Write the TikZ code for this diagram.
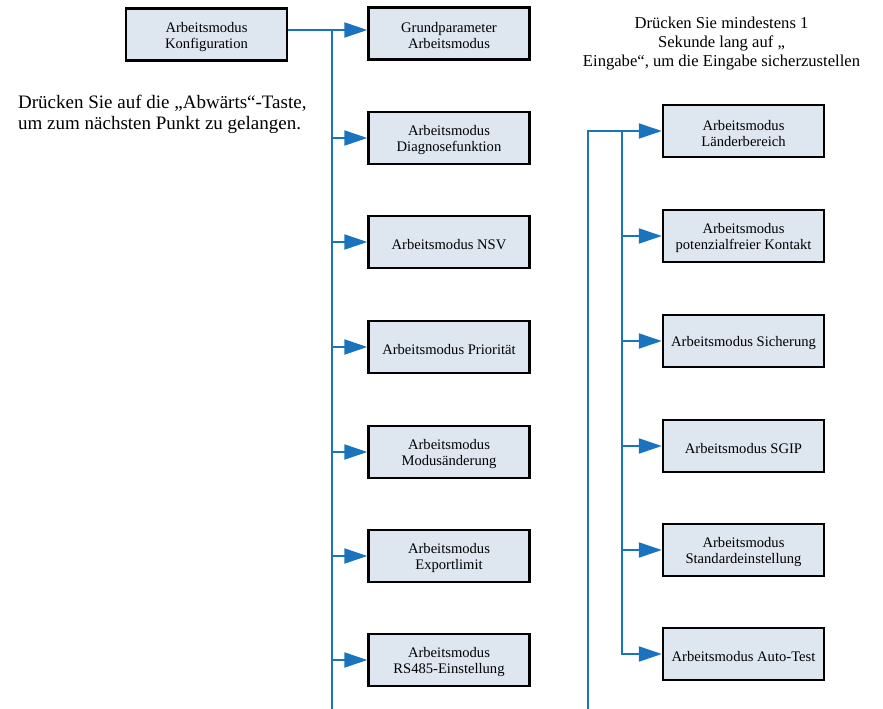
\documentclass[tikz,border=0pt]{standalone}
\usepackage{fontspec}
\setmainfont{Liberation Serif}
\usetikzlibrary{arrows.meta}
\definecolor{boxfill}{RGB}{222,230,240}
\definecolor{linkblue}{RGB}{26,115,189}
\newcommand{\mystrut}{\rule{0pt}{15pt}}
\begin{document}
\begin{tikzpicture}[x=1pt,y=-1pt,
  mbox/.style={draw=black, line width=2.4pt, fill=boxfill, minimum width=161pt,
    minimum height=52pt, align=center, inner sep=0pt,
    font=\fontsize{14.6}{16}\selectfont},
  link/.style={draw=linkblue, line width=2pt},
  arr/.style={link, -{Triangle[length=23pt,width=15pt]}},
  note/.style={inner sep=0pt}]
\useasboundingbox (0,0) rectangle (883,709);

% left column
\node[mbox] (konf) at (206.5,34.5) {\mystrut Arbeitsmodus\\Konfiguration};
\node[mbox] (grund) at (449,33.5) {\mystrut Grundparameter\\Arbeitsmodus};
\node[mbox] (diag) at (449,138) {\mystrut Arbeitsmodus\\Diagnosefunktion};
\node[mbox] (nsv) at (449,242) {\mystrut Arbeitsmodus NSV};
\node[mbox] (prio) at (449,347) {\mystrut Arbeitsmodus Priorität};
\node[mbox] (modus) at (449,452) {\mystrut Arbeitsmodus\\Modusänderung};
\node[mbox] (export) at (449,556) {\mystrut Arbeitsmodus\\Exportlimit};
\node[mbox] (rs) at (449,660) {\mystrut Arbeitsmodus\\RS485-Einstellung};

% right column
\node[mbox] (land) at (743.5,131) {\mystrut Arbeitsmodus\\Länderbereich};
\node[mbox] (pot) at (743.5,236) {\mystrut Arbeitsmodus\\potenzialfreier Kontakt};
\node[mbox] (sich) at (743.5,341) {\mystrut Arbeitsmodus Sicherung};
\node[mbox] (sgip) at (743.5,446) {\mystrut Arbeitsmodus SGIP};
\node[mbox] (std) at (743.5,550) {\mystrut Arbeitsmodus\\Standardeinstellung};
\node[mbox] (auto) at (743.5,654) {\mystrut Arbeitsmodus Auto-Test};

% notes
\node[note, anchor=west, align=left, font=\fontsize{19}{20.5}\selectfont] (noteleft) at (18,114.5)
  {Drücken Sie auf die „Abwärts“-Taste,\\um zum nächsten Punkt zu gelangen.};
\node[note, align=center, font=\fontsize{16.6}{18.6}\selectfont] (noteright) at (721.5,43.5)
  {Drücken Sie mindestens 1\\Sekunde lang auf „\\Eingabe“, um die Eingabe sicherzustellen};

% left connectors
\coordinate (lbus) at (332,0);
\coordinate (lbot) at (332,709);
\coordinate (ltop) at (332,30);
\draw[link] (konf.east |- ltop) -- (ltop) -- (lbot);
\draw[arr] (ltop) -- (grund.west |- ltop);
\foreach \n in {diag,nsv,prio,modus,export,rs}
  \draw[arr] (\n.west -| lbus) -- (\n.west);

% right connectors
\coordinate (rin) at (622,0);
\coordinate (rbot) at (588,709);
\draw[arr] (rbot) |- (land.west);
\draw[arr] (land.west -| rin) |- (auto.west);
\foreach \n in {pot,sich,sgip,std}
  \draw[arr] (\n.west -| rin) -- (\n.west);
\end{tikzpicture}
\end{document}
